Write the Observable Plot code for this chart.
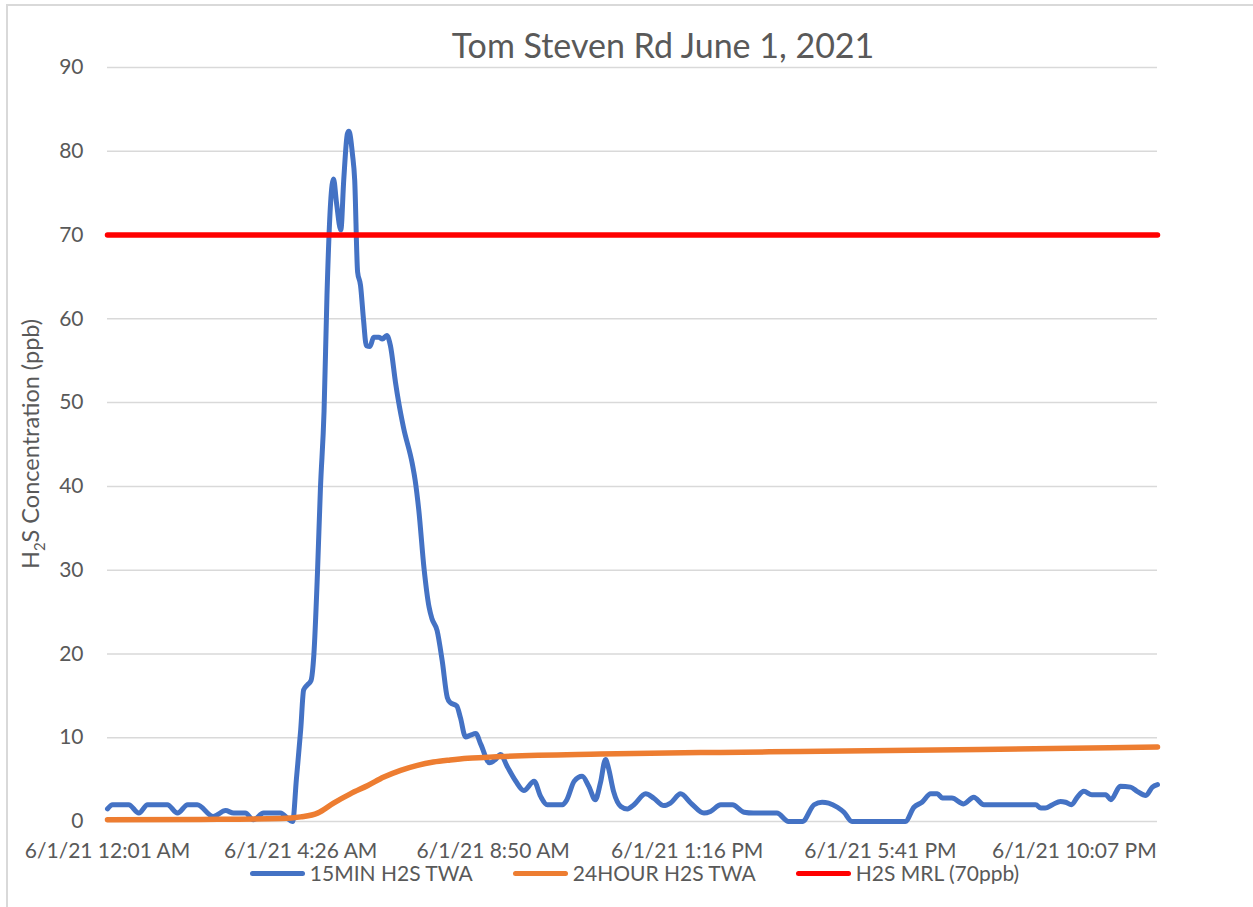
<!DOCTYPE html>
<html>
<head>
<meta charset="utf-8">
<script src="https://cdn.jsdelivr.net/npm/d3@7"></script>
<script src="https://cdn.jsdelivr.net/npm/@observablehq/plot@0.6"></script>
<style>
  html, body { margin: 0; padding: 0; background: #ffffff; overflow: hidden; }
  body { font-family: Lato, "Open Sans", sans-serif; color: #595959; }
  #frame { position: absolute; left: 6px; top: 4px; width: 1400px; height: 1000px;
           border-left: 2px solid #d9d9d9; border-top: 2px solid #d9d9d9; pointer-events: none; }
  #title { height: 55px; box-sizing: border-box; padding-top: 25px; padding-left: 73px; line-height: 40px;
           text-align: center; font-size: 34px; color: #595959; width: 1253px; white-space: nowrap; }
  #chart svg { display: block; max-width: none !important; }
  #legend { display: flex; justify-content: center; align-items: center; height: 22px; box-sizing: border-box;
            width: 1253px; padding-left: 16px; font-size: 21px; color: #595959; gap: 40px; line-height: 22px; }
  .item { display: flex; align-items: center; }
  .sw { width: 55px; height: 5px; border-radius: 3px; margin-right: 5px; }
</style>
</head>
<body>
<div id="frame"></div>
<div id="title"></div>
<div id="chart"></div>
<div id="legend"></div>
<script>
// ---- data (x = minutes after 6/1/21 12:01 AM, y = ppb) ----
const chartTitle = "Tom Steven Rd June 1, 2021";
const seriesNames = ["15MIN H2S TWA", "24HOUR H2S TWA", "H2S MRL (70ppb)"];
const seriesColors = ["#4472C4", "#ED7D31", "#FF0000"];

const twa15min = [
  [0,1.5],[7,2],[29,2],[43,1],[55,2],[82,2],[96,1],[110,2],[123,2],[145,0.6],
  [162,1.3],[173,1],[189,1],[200,0.2],[214,1],[237,1],[251,0.1],[254,0],[259,5],[265,11],
  [269,15.7],[274,16.3],[279,16.8],[283,19.9],[288,29.8],[292,39.7],[297,49],[301,62.8],[306,73.9],[310,76.7],
  [314,73.9],[320,70.6],[324,76.6],[329,82.1],[331,82.4],[336,79.6],[339,76.6],[343,65.6],[347,64],[351,60],
  [355,56.8],[360,56.7],[365,57.8],[372,57.8],[377,57.6],[383,58],[388,56.8],[395,52.4],[399,50.2],[406,47],
  [418,42.7],[422,40.7],[427,37.1],[434,30.3],[441,25.6],[445,24.2],[452,22.8],[459,19.2],[466,14.8],[470,14.2],
  [479,13.8],[484,12.4],[491,10.1],[498,10.3],[505,10.5],[512,9.2],[524,7.0],[532,7.4],[539,8.0],[548,6.6],
  [560,4.8],[571,3.7],[585,4.8],[594,3.0],[603,2.0],[624,2.0],[630,2.6],[640,4.8],[651,5.4],[660,4.2],
  [669,2.6],[676,4.6],[683,7.4],[687,6.4],[694,3.6],[704,1.8],[713,1.5],[722,2.0],[738,3.3],[749,2.8],
  [763,1.9],[772,2.2],[786,3.3],[800,2.2],[818,1.0],[827,1.2],[841,2.0],[857,2.0],[873,1.1],[886,1.0],
  [905,1.0],[918,1.0],[934,0],[953,0],[969,2.0],[980,2.3],[989,2.2],[1001,1.7],[1010,1.1],[1021,0],
  [1094,0],[1106,1.7],[1117,2.3],[1129,3.3],[1138,3.3],[1145,2.8],[1158,2.8],[1174,2.1],[1188,2.9],[1202,2.0],
  [1273,2.0],[1280,1.6],[1286,1.6],[1296,2.0],[1307,2.4],[1314,2.3],[1322,2.0],[1330,2.9],[1339,3.6],[1350,3.2],
  [1369,3.2],[1376,2.6],[1389,4.2],[1403,4.1],[1412,3.6],[1424,3.1],[1433,4.1],[1440,4.4]
];

const twa24hour = [
  [0,0.2],[128,0.25],[237,0.35],[265,0.55],[288,1.0],[310,2.2],[333,3.3],[357,4.3],[379,5.3],[402,6.1],
  [425,6.7],[447,7.1],[470,7.35],[494,7.55],[516,7.65],[539,7.75],[676,8.05],[841,8.25],[950,8.35],[1197,8.6],[1440,8.9]
];

const mrl = [[0,70],[1440,70]];

const xTickMinutes = [0, 265, 529, 795, 1060, 1326];
const xTickLabels = ["6/1/21 12:01 AM", "6/1/21 4:26 AM", "6/1/21 8:50 AM", "6/1/21 1:16 PM", "6/1/21 5:41 PM", "6/1/21 10:07 PM"];
const yTicks = [0,10,20,30,40,50,60,70,80,90];

// ---- title ----
document.getElementById("title").textContent = chartTitle;

// ---- chart ----
const labelOf = new Map(xTickMinutes.map((m, i) => [m, xTickLabels[i]]));
const chart = Plot.plot({
  width: 1253,
  height: 807,
  marginLeft: 107,
  marginRight: 96,
  marginTop: 12,
  marginBottom: 41,
  style: { fontFamily: "Lato, 'Open Sans', sans-serif", fontSize: "21px", color: "#595959", background: "transparent", overflow: "visible" },
  x: { domain: [0, 1440], ticks: xTickMinutes, tickFormat: d => labelOf.get(d), tickSize: 0, tickPadding: 22, label: null },
  y: { domain: [0, 90], ticks: yTicks, tickSize: 0, tickPadding: 24, label: null },
  marks: [
    Plot.gridY(yTicks, { stroke: "#d9d9d9", strokeOpacity: 1, strokeWidth: 1.5 }),
    Plot.line(twa15min, { x: d => d[0], y: d => d[1], stroke: seriesColors[0], strokeWidth: 5, curve: "monotone-x", strokeLinejoin: "round", strokeLinecap: "round" }),
    Plot.line(twa24hour, { x: d => d[0], y: d => d[1], stroke: seriesColors[1], strokeWidth: 5.5, curve: "monotone-x", strokeLinecap: "round" }),
    Plot.line(mrl, { x: d => d[0], y: d => d[1], stroke: seriesColors[2], strokeWidth: 5.5 })
  ]
});
document.getElementById("chart").appendChild(chart);

// y-axis title with subscript
const svg = d3.select(chart);
const yt = svg.append("text")
  .attr("transform", "translate(30,389) rotate(-90)")
  .attr("text-anchor", "middle")
  .attr("dominant-baseline", "central")
  .attr("fill", "#595959")
  .style("font-size", "23.5px")
  .style("font-family", "Lato, 'Open Sans', sans-serif");
yt.append("tspan").text("H");
yt.append("tspan").attr("baseline-shift", "sub").style("font-size", "15px").text("2");
yt.append("tspan").text("S Concentration (ppb)");

// ---- legend ----
const legend = d3.select("#legend");
seriesNames.forEach((name, i) => {
  const it = legend.append("div").attr("class", "item");
  it.append("div").attr("class", "sw").style("background", seriesColors[i]);
  it.append("span").text(name);
});
</script>
</body>
</html>
